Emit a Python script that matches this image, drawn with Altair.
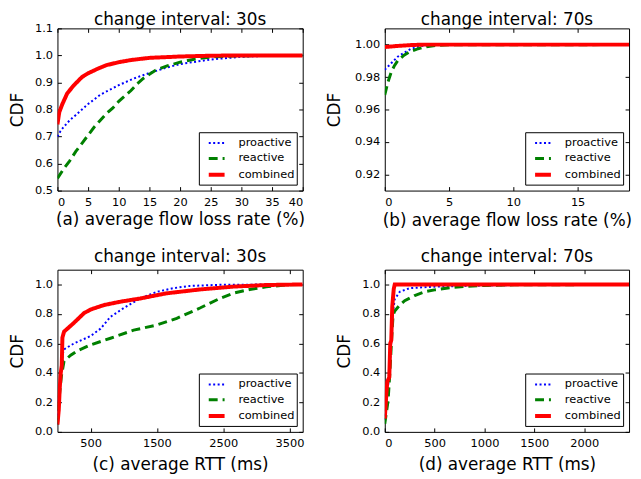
import altair as alt
import pandas as pd

SERIES = ["proactive", "reactive", "combined"]
COLORS = ["#0000ff", "#008000", "#ff0000"]
DASHES = [[2, 2.5], [9, 5], [1, 0]]
FONT = "DejaVu Sans"

# ---- panel (a): average flow loss rate, change interval 30s ----
A_PRO_X = [0, 0.5, 1, 2, 3, 4, 5, 7, 10, 12.5, 15, 17.5, 20, 25, 30, 35, 40]
A_PRO_Y = [0.70, 0.72, 0.735, 0.76, 0.78, 0.80, 0.82, 0.855, 0.89, 0.915, 0.935, 0.953, 0.968, 0.985, 0.995, 0.999, 1.0]
A_REA_X = [0, 1, 2, 3, 4, 5, 6, 7, 8, 9, 10, 11, 12, 13, 14, 15, 16, 18, 20, 22.5, 25, 30, 40]
A_REA_Y = [0.545, 0.58, 0.61, 0.645, 0.675, 0.705, 0.735, 0.76, 0.785, 0.805, 0.83, 0.85, 0.87, 0.895, 0.915, 0.93, 0.945, 0.962, 0.975, 0.987, 0.994, 0.999, 1.0]
A_COM_X = [0, 0.3, 0.8, 1.6, 2.7, 4, 5, 6.5, 8, 10, 12, 15, 20, 25, 30, 40]
A_COM_Y = [0.745, 0.79, 0.82, 0.86, 0.89, 0.92, 0.934, 0.95, 0.964, 0.975, 0.983, 0.991, 0.996, 0.999, 1.0, 1.0]

# ---- panel (b): average flow loss rate, change interval 70s ----
B_PRO_X = [0, 0.25, 0.5, 1, 1.5, 2, 2.5, 3, 4, 6, 19]
B_PRO_Y = [0.9845, 0.9865, 0.9885, 0.9925, 0.995, 0.9972, 0.9985, 0.9993, 0.9998, 1.0, 1.0]
B_REA_X = [0, 0.25, 0.5, 0.75, 1, 1.5, 2, 2.5, 3, 3.5, 4, 5, 19]
B_REA_Y = [0.969, 0.977, 0.983, 0.987, 0.990, 0.9935, 0.9958, 0.9972, 0.9983, 0.999, 0.9995, 0.9999, 1.0]
B_COM_X = [0, 1, 2, 3, 19]
B_COM_Y = [0.9985, 0.9992, 0.9997, 1.0, 1.0]

# ---- panel (c): average RTT, change interval 30s ----
C_PRO_X = [0, 30, 60, 80, 100, 250, 500, 650, 800, 1000, 1250, 1500, 1750, 2000, 2500, 3700]
C_PRO_Y = [0.05, 0.30, 0.45, 0.53, 0.56, 0.60, 0.65, 0.70, 0.78, 0.84, 0.905, 0.95, 0.975, 0.99, 0.998, 1.0]
C_REA_X = [0, 30, 60, 100, 200, 300, 500, 800, 1150, 1500, 1800, 2150, 2450, 2650, 2900, 3150, 3450, 3700]
C_REA_Y = [0.05, 0.25, 0.38, 0.48, 0.52, 0.55, 0.59, 0.635, 0.69, 0.725, 0.77, 0.84, 0.905, 0.94, 0.966, 0.984, 0.996, 1.0]
C_COM_X = [0, 20, 35, 50, 65, 75, 100, 250, 400, 500, 700, 950, 1250, 1650, 2150, 2650, 3150, 3700]
C_COM_Y = [0.05, 0.15, 0.30, 0.40, 0.45, 0.64, 0.68, 0.74, 0.805, 0.83, 0.86, 0.883, 0.905, 0.94, 0.966, 0.985, 0.996, 1.0]

# ---- panel (d): average RTT, change interval 70s ----
D_PRO_X = [0, 30, 60, 80, 100, 150, 250, 500, 800, 1200, 1800, 2450]
D_PRO_Y = [0.08, 0.28, 0.55, 0.80, 0.90, 0.95, 0.975, 0.985, 0.99, 0.995, 0.999, 1.0]
D_REA_X = [0, 33, 50, 67, 83, 100, 150, 200, 300, 400, 500, 650, 800, 1000, 1300, 2450]
D_REA_Y = [0.055, 0.21, 0.39, 0.61, 0.79, 0.82, 0.86, 0.89, 0.925, 0.95, 0.963, 0.978, 0.986, 0.993, 0.997, 1.0]
D_COM_X = [0, 15, 25, 45, 55, 65, 75, 90, 100, 2450]
D_COM_Y = [0.09, 0.25, 0.34, 0.37, 0.60, 0.62, 0.85, 0.97, 1.0, 1.0]


def frame(px, py, rx, ry, cx, cy):
    rows = []
    for name, xs, ys in zip(SERIES, [px, rx, cx], [py, ry, cy]):
        for i, (x, y) in enumerate(zip(xs, ys)):
            rows.append({"series": name, "x": x, "y": y, "i": i})
    return pd.DataFrame(rows)


LEG = alt.Legend(title=None, orient="bottom-right")


def panel(df, title, tdy, xtitle, xdom, ydom, xticks, yticks, yfmt, ytx, xty, W, H):
    xs = alt.Scale(domain=xdom, nice=False, zero=False)
    ys = alt.Scale(domain=ydom, nice=False, zero=False)
    tick_kw = dict(labels=False, title=None, domain=False, grid=False,
                   ticks=True, tickSize=4, tickColor="black", tickWidth=1)
    lines = alt.Chart(df).mark_line(clip=True).encode(
        x=alt.X("x:Q", scale=xs, axis=alt.Axis(
            values=xticks, format="d", title=xtitle, ticks=False, tickSize=0,
            domain=False, grid=False, labelPadding=6,
            titleX=W / 2, titleY=xty, titleBaseline="alphabetic", titleAlign="center")),
        y=alt.Y("y:Q", scale=ys, axis=alt.Axis(
            values=yticks, format=yfmt, title="CDF", ticks=False, tickSize=0,
            domain=False, grid=False, labelPadding=5,
            titleX=ytx, titleY=H / 2, titleBaseline="middle", titleAlign="center",
            titleAngle=270)),
        color=alt.Color("series:N", scale=alt.Scale(domain=SERIES, range=COLORS), legend=LEG),
        strokeDash=alt.StrokeDash("series:N", scale=alt.Scale(domain=SERIES, range=DASHES), legend=LEG),
        strokeWidth=alt.StrokeWidth("series:N", scale=alt.Scale(type="point", domain=SERIES, range=[2, 4], padding=0), legend=LEG),
        order="i:Q",
    )
    t1 = alt.Chart(df).mark_line(opacity=0).encode(
        x=alt.X("x:Q", scale=xs, axis=alt.Axis(orient="top", offset=-H, values=xticks, **tick_kw)),
        y=alt.Y("y:Q", scale=ys, axis=alt.Axis(orient="right", offset=-W, values=yticks, **tick_kw)),
    )
    t2 = alt.Chart(df).mark_line(opacity=0).encode(
        x=alt.X("x:Q", scale=xs, axis=alt.Axis(orient="bottom", offset=-H, values=xticks, **tick_kw)),
        y=alt.Y("y:Q", scale=ys, axis=alt.Axis(orient="left", offset=-W, values=yticks, **tick_kw)),
    )
    return alt.layer(t1, t2, lines).resolve_axis(x="independent", y="independent").properties(
        width=W, height=H,
        title=alt.Title(title, fontSize=17, font=FONT, fontWeight="normal", frame="group",
                        offset=5, dy=tdy, baseline="alphabetic", anchor="middle", color="black"),
    )


dfa = frame(A_PRO_X, A_PRO_Y, A_REA_X, A_REA_Y, A_COM_X, A_COM_Y)
dfb = frame(B_PRO_X, B_PRO_Y, B_REA_X, B_REA_Y, B_COM_X, B_COM_Y)
dfc = frame(C_PRO_X, C_PRO_Y, C_REA_X, C_REA_Y, C_COM_X, C_COM_Y)
dfd = frame(D_PRO_X, D_PRO_Y, D_REA_X, D_REA_Y, D_COM_X, D_COM_Y)

pa = panel(dfa, "change interval: 30s", 25, "(a) average flow loss rate (%)", [0, 40], [0.5, 1.1],
           list(range(0, 41, 5)), [0.5, 0.6, 0.7, 0.8, 0.9, 1.0, 1.1], ".1f", -40, 34, 248, 164)
pb = panel(dfb, "change interval: 70s", 19, "(b) average flow loss rate (%)", [0, 19], [0.91, 1.01],
           [0, 5, 10, 15], [0.92, 0.94, 0.96, 0.98, 1.0], ".2f", -51, 35, 247, 164)
pc = panel(dfc, "change interval: 30s", 15, "(c) average RTT (ms)", [0, 3700], [0.0, 1.1],
           [500, 1500, 2500, 3500], [0.0, 0.2, 0.4, 0.6, 0.8, 1.0], ".1f", -40, 38, 248, 164)
pd_ = panel(dfd, "change interval: 70s", 15, "(d) average RTT (ms)", [0, 2450], [0.0, 1.1],
            [0, 500, 1000, 1500, 2000], [0.0, 0.2, 0.4, 0.6, 0.8, 1.0], ".1f", -41, 38, 247, 164)

ind = dict(color="independent", strokeDash="independent", strokeWidth="independent")

chart = (
    alt.concat(pa, pb, pc, pd_, columns=2, spacing={"row": 80, "column": 83}, bounds="flush")
    .resolve_scale(**ind).resolve_legend(**ind)
    .properties(padding=0)
    .configure_view(stroke="black", strokeWidth=1)
    .configure_axis(labelFont=FONT, labelFontSize=11.5, labelColor="black",
                    titleFont=FONT, titleFontSize=17, titleFontWeight="normal", titleColor="black")
    .configure_legend(orient="bottom-right", offset=6, strokeColor="black", fillColor="white",
                      padding=2, cornerRadius=0, symbolType="stroke", symbolSize=256,
                      symbolOffset=6, labelFont=FONT, labelFontSize=11.5, labelColor="black",
                      labelOffset=12, rowPadding=0, symbolOpacity=1)
)

chart.save("out.html", embed_options={"renderer": "svg", "actions": False})
